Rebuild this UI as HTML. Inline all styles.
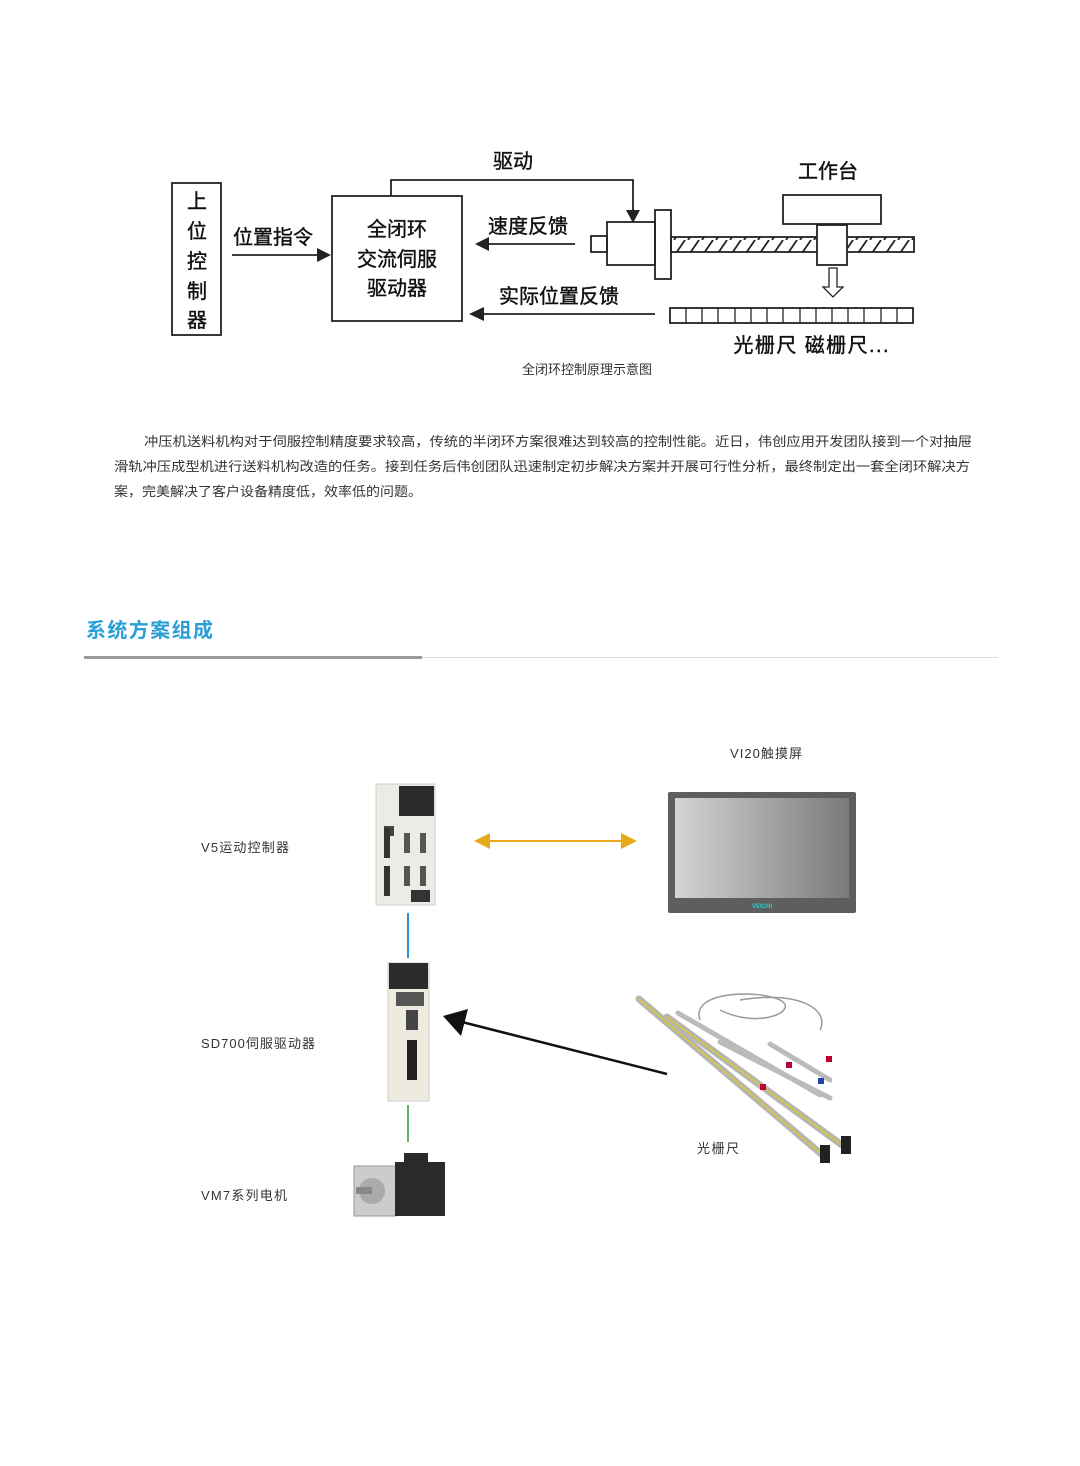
<!DOCTYPE html>
<html><head><meta charset="utf-8"><style>
html,body{margin:0;padding:0;background:#fff;}
svg{display:block;font-family:"Liberation Sans","Noto Sans CJK SC",sans-serif;}
</style></head><body>
<svg width="1080" height="1466" viewBox="0 0 1080 1466" xmlns="http://www.w3.org/2000/svg">
<defs>
<pattern id="hatch" width="14" height="16" patternUnits="userSpaceOnUse">
<line x1="2" y1="16" x2="13" y2="0" stroke="#222" stroke-width="1.8"/>
</pattern>
<linearGradient id="scr" x1="0" y1="0" x2="1" y2="0"><stop offset="0" stop-color="#d4d4d4"/><stop offset="1" stop-color="#7a7a7a"/></linearGradient>
</defs>
<g fill="none" stroke="#222" stroke-width="1.8">
<rect x="172" y="183" width="49" height="152"/>
<rect x="332" y="196" width="130" height="125"/>
<polyline points="391,196 391,180 633,180 633,212"/>
<line x1="232" y1="255" x2="318" y2="255"/>
<line x1="575" y1="244" x2="488" y2="244"/>
<line x1="655" y1="314" x2="483" y2="314"/>
<rect x="591" y="236" width="16" height="16"/>
<rect x="607" y="222" width="48" height="43"/>
<rect x="655" y="210" width="16" height="69"/>
<rect x="671" y="237" width="243" height="15" fill="url(#hatch)"/>
<rect x="783" y="195" width="98" height="29" fill="#fff"/>
<rect x="817" y="225" width="30" height="40" fill="#fff"/>
<polygon points="829,268 837,268 837,287 843,287 833,297 823,287 829,287" stroke-width="1.3"/>
<rect x="670" y="308" width="243" height="15"/>
</g>
<g stroke="#222" stroke-width="1.3">
<line x1="686" y1="308" x2="686" y2="323"/><line x1="702" y1="308" x2="702" y2="323"/><line x1="718" y1="308" x2="718" y2="323"/><line x1="735" y1="308" x2="735" y2="323"/><line x1="751" y1="308" x2="751" y2="323"/><line x1="767" y1="308" x2="767" y2="323"/><line x1="783" y1="308" x2="783" y2="323"/><line x1="800" y1="308" x2="800" y2="323"/><line x1="816" y1="308" x2="816" y2="323"/><line x1="832" y1="308" x2="832" y2="323"/><line x1="848" y1="308" x2="848" y2="323"/><line x1="864" y1="308" x2="864" y2="323"/><line x1="881" y1="308" x2="881" y2="323"/><line x1="897" y1="308" x2="897" y2="323"/>
</g>
<g fill="#222">
<polygon points="317,248 331,255 317,262"/>
<polygon points="626,210 640,210 633,223"/>
<polygon points="489,237 475,244 489,251"/>
<polygon points="484,307 469,314 484,321"/>
</g>
<g font-size="20" fill="#111" text-anchor="middle" stroke="#111" stroke-width="0.4">
<text x="197" y="208">上</text><text x="197" y="238">位</text><text x="197" y="268">控</text><text x="197" y="298">制</text><text x="197" y="327">器</text>
<text x="273" y="244">位置指令</text>
<text x="397" y="236">全闭环</text><text x="397" y="266">交流伺服</text><text x="397" y="295">驱动器</text>
<text x="513" y="168">驱动</text>
<text x="528" y="233">速度反馈</text>
<text x="559" y="303">实际位置反馈</text>
<text x="828" y="178">工作台</text>
<text x="811" y="352" textLength="155">光栅尺 磁栅尺...</text>
</g>
<text x="587" y="374" font-size="13" fill="#333" text-anchor="middle">全闭环控制原理示意图</text>
<g font-size="13" fill="#333">
<text x="144" y="446" textLength="828" lengthAdjust="spacingAndGlyphs">冲压机送料机构对于伺服控制精度要求较高，传统的半闭环方案很难达到较高的控制性能。近日，伟创应用开发团队接到一个对抽屉</text>
<text x="114" y="471" textLength="856" lengthAdjust="spacingAndGlyphs">滑轨冲压成型机进行送料机构改造的任务。接到任务后伟创团队迅速制定初步解决方案并开展可行性分析，最终制定出一套全闭环解决方</text>
<text x="114" y="496" textLength="308" lengthAdjust="spacingAndGlyphs">案，完美解决了客户设备精度低，效率低的问题。</text>
</g>
<text x="86" y="637" font-size="20" font-weight="bold" fill="#2a9fd6" textLength="127">系统方案组成</text>
<rect x="84" y="656" width="338" height="3" fill="#9a9a9a"/>
<rect x="422" y="657" width="576" height="1" fill="#ddd"/>
<g font-size="13" fill="#333">
<text x="201" y="852" textLength="88">V5运动控制器</text>
<text x="201" y="1048" textLength="114">SD700伺服驱动器</text>
<text x="201" y="1200" textLength="86">VM7系列电机</text>
<text x="730" y="758" textLength="72">VI20触摸屏</text>
<text x="697" y="1153" textLength="42">光栅尺</text>
</g>
<!-- controller -->
<rect x="376" y="784" width="59" height="121" fill="#ecebe6" stroke="#ccc"/>
<rect x="399" y="786" width="35" height="30" fill="#2b2b2b"/>
<rect x="384" y="826" width="10" height="10" fill="#444"/>
<rect x="384" y="828" width="6" height="30" fill="#333"/><rect x="384" y="866" width="6" height="30" fill="#333"/>
<rect x="404" y="833" width="6" height="20" fill="#555"/><rect x="420" y="833" width="6" height="20" fill="#555"/>
<rect x="404" y="866" width="6" height="20" fill="#555"/><rect x="420" y="866" width="6" height="20" fill="#555"/>
<rect x="411" y="890" width="19" height="12" fill="#333"/>
<!-- orange arrow -->
<line x1="486" y1="841" x2="624" y2="841" stroke="#e8a91a" stroke-width="2"/>
<polygon points="474,841 490,833 490,849" fill="#e8a91a"/>
<polygon points="637,841 621,833 621,849" fill="#e8a91a"/>
<!-- screen -->
<rect x="668" y="792" width="188" height="121" rx="2" fill="#5e5e5e"/>
<rect x="675" y="798" width="174" height="100" fill="url(#scr)"/>
<text x="762" y="908" font-size="6" font-weight="bold" fill="#3cc" text-anchor="middle">VEICHI</text>
<!-- lines -->
<line x1="408" y1="913" x2="408" y2="958" stroke="#2a8fd6" stroke-width="2"/>
<line x1="408" y1="1105" x2="408" y2="1142" stroke="#5cb85c" stroke-width="2"/>
<!-- drive -->
<rect x="388" y="963" width="41" height="138" fill="#eeeae0" stroke="#ccc"/>
<rect x="389" y="963" width="39" height="26" fill="#2b2b2b"/>
<rect x="396" y="992" width="28" height="14" fill="#555"/>
<rect x="406" y="1010" width="12" height="20" fill="#444"/>
<rect x="407" y="1040" width="10" height="40" fill="#222"/>
<!-- motor -->
<rect x="354" y="1166" width="42" height="50" fill="#ccc" stroke="#999"/>
<circle cx="372" cy="1191" r="13" fill="#aaa"/><rect x="356" y="1187" width="16" height="7" fill="#888"/>
<rect x="395" y="1162" width="50" height="54" fill="#2a2a2a"/>
<rect x="404" y="1153" width="24" height="10" fill="#2a2a2a"/>
<!-- black arrow -->
<line x1="667" y1="1074" x2="462" y2="1022" stroke="#111" stroke-width="2.5"/>
<polygon points="443,1016 468,1009 461,1036" fill="#111"/>
<!-- grating -->
<g stroke-linecap="round">
<line x1="639" y1="999" x2="826" y2="1158" stroke="#b5b5b5" stroke-width="7"/>
<line x1="639" y1="999" x2="826" y2="1158" stroke="#d8c930" stroke-width="1.5"/>
<line x1="667" y1="1017" x2="846" y2="1148" stroke="#b5b5b5" stroke-width="7"/>
<line x1="667" y1="1017" x2="846" y2="1148" stroke="#d8c930" stroke-width="1.5"/>
<line x1="678" y1="1013" x2="820" y2="1095" stroke="#bbb" stroke-width="5"/>
<line x1="720" y1="1042" x2="830" y2="1098" stroke="#bbb" stroke-width="5"/>
<line x1="770" y1="1044" x2="830" y2="1080" stroke="#bbb" stroke-width="5"/>
</g>
<path d="M700,1020 C690,990 760,990 780,1000 C800,1010 760,1030 720,1010 M740,1000 C800,990 830,1010 820,1030" fill="none" stroke="#999" stroke-width="1.5"/>
<rect x="820" y="1145" width="10" height="18" fill="#222"/><rect x="841" y="1136" width="10" height="18" fill="#222"/>
<rect x="760" y="1084" width="6" height="6" fill="#b03"/><rect x="786" y="1062" width="6" height="6" fill="#b03"/><rect x="826" y="1056" width="6" height="6" fill="#b03"/><rect x="818" y="1078" width="6" height="6" fill="#24a"/>
</svg>
</body></html>
